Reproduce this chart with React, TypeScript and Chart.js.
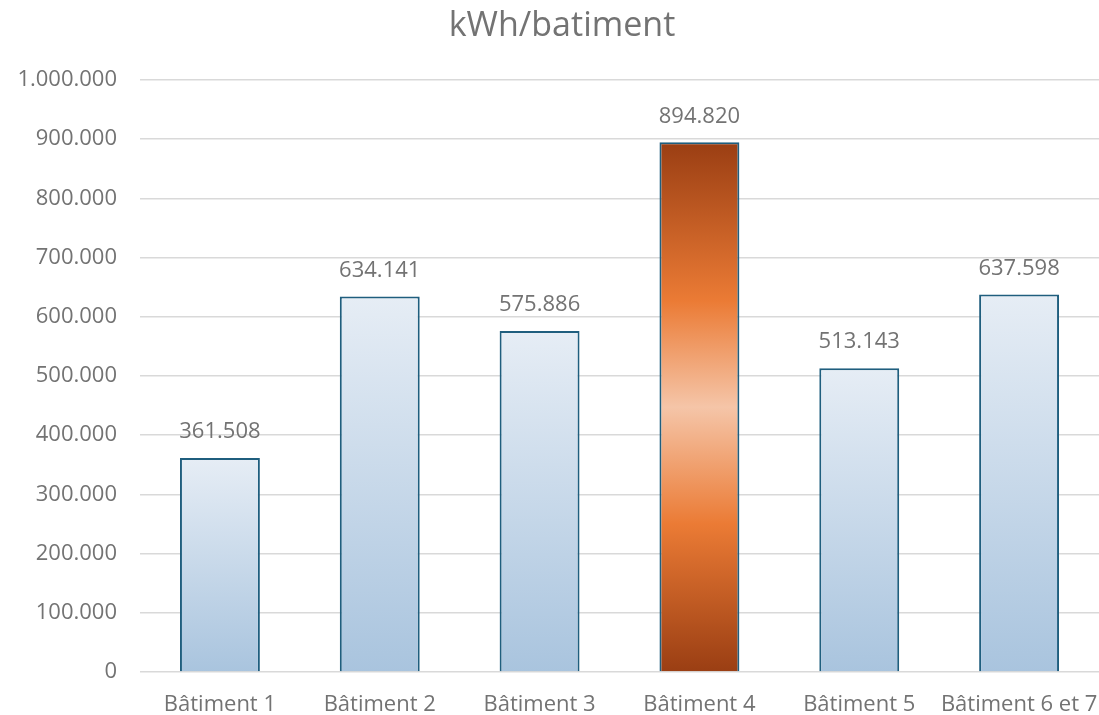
import React, { useEffect, useRef } from "react";
import { Chart, registerables } from "chart.js";

Chart.register(...registerables);

const categories = ["Bâtiment 1", "Bâtiment 2", "Bâtiment 3", "Bâtiment 4", "Bâtiment 5", "Bâtiment 6 et 7"];
const kwhValues = [361508, 634141, 575886, 894820, 513143, 637598];
const highlightIndex = 3;
const chartTitle = "kWh/batiment";

const FONT = "'Open Sans', 'Liberation Sans', sans-serif";
const TEXT = "#737373";

function fmt(v: number): string {
  return Math.round(v).toString().replace(/\B(?=(\d{3})+(?!\d))/g, ".");
}

const labelPlugin = {
  id: "valueLabels",
  afterDatasetsDraw(chart: any) {
    const ctx = chart.ctx;
    const meta = chart.getDatasetMeta(0);
    ctx.save();
    ctx.fillStyle = TEXT;
    ctx.font = `22px ${FONT}`;
    ctx.textAlign = "center";
    ctx.textBaseline = "middle";
    meta.data.forEach((el: any, i: number) => {
      ctx.fillText(fmt(kwhValues[i]), el.x, el.y - 26);
    });
    ctx.restore();
  },
};

const titlePlugin = {
  id: "customTitle",
  afterDraw(chart: any) {
    const ctx = chart.ctx;
    ctx.save();
    ctx.fillStyle = TEXT;
    ctx.font = `34px ${FONT}`;
    ctx.textAlign = "center";
    ctx.textBaseline = "alphabetic";
    ctx.fillText(chartTitle, 562, 36);
    ctx.restore();
  },
};

function barFill(c: any) {
  const chart = c.chart;
  if (!chart.chartArea || !chart.scales || !chart.scales.y) return "#c5d6ea";
  const y = chart.scales.y;
  const v = c.raw as number;
  const top = y.getPixelForValue(v);
  const bottom = y.getPixelForValue(0);
  const g = chart.ctx.createLinearGradient(0, top, 0, bottom);
  if (c.dataIndex === highlightIndex) {
    g.addColorStop(0, "#9A3E13");
    g.addColorStop(0.3, "#EB7B35");
    g.addColorStop(0.5, "#F5C5A8");
    g.addColorStop(0.72, "#EB7B35");
    g.addColorStop(1, "#9A3E13");
  } else {
    g.addColorStop(0, "#E6EDF5");
    g.addColorStop(1, "#A9C4DE");
  }
  return g;
}

export default function App() {
  const ref = useRef<HTMLCanvasElement | null>(null);
  useEffect(() => {
    if (!ref.current) return;
    const chart = new Chart(ref.current, {
      type: "bar",
      data: {
        labels: categories,
        datasets: [
          {
            data: kwhValues,
            backgroundColor: barFill as any,
            borderColor: "#1F5E7E",
            borderWidth: 2,
            barPercentage: 0.5,
            categoryPercentage: 1,
          },
        ],
      },
      options: {
        animation: false,
        responsive: false,
        layout: { padding: { left: 0, right: 0, top: 80, bottom: 0 } },
        plugins: {
          legend: { display: false },
          tooltip: { enabled: false },
          title: { display: false },
        },
        scales: {
          x: {
            grid: { display: false, drawTicks: false },
            border: { display: false },
            ticks: { color: TEXT, font: { family: FONT, size: 22 }, padding: 20, maxRotation: 0, autoSkip: false },
            afterFit: (s: any) => {
              s.height = 43;
              s.paddingLeft = 0;
              s.paddingRight = 0;
            },
          },
          y: {
            min: 0,
            max: 1000000,
            grid: { color: "#D9D9D9", lineWidth: 1.5, drawTicks: false },
            border: { display: false },
            ticks: {
              stepSize: 100000,
              color: TEXT,
              padding: 23,
              font: { family: FONT, size: 22 },
              callback: (v: any) => fmt(Number(v)),
            },
            afterFit: (s: any) => {
              s.width = 140;
            },
          },
        },
      },
      plugins: [labelPlugin, titlePlugin],
    });
    return () => chart.destroy();
  }, []);
  return (
    <div style={{ position: "absolute", left: 0, top: 0, width: 1099, height: 715, background: "#fff" }}>
      <canvas ref={ref} width={1099} height={715} />
    </div>
  );
}
